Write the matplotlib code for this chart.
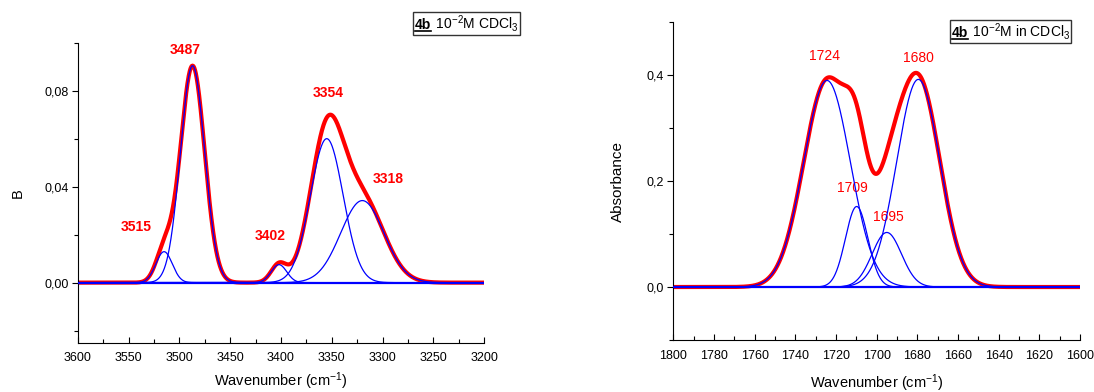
import matplotlib
matplotlib.use('Agg')
import matplotlib.pyplot as plt
import numpy as np
from matplotlib.lines import Line2D
from matplotlib.patches import Rectangle
from matplotlib.transforms import IdentityTransform

plt.rcParams['font.family'] = ['Liberation Sans', 'DejaVu Sans']
plt.rcParams['mathtext.fontset'] = 'custom'
plt.rcParams['mathtext.rm'] = 'Liberation Sans'
plt.rcParams['mathtext.it'] = 'Liberation Sans:italic'
plt.rcParams['mathtext.bf'] = 'Liberation Sans:bold'

# N-H region (left): fitted gaussian components
nh_centers = [3515, 3487, 3402, 3355, 3320]
nh_heights = [0.0129, 0.0904, 0.0075, 0.0600, 0.0342]
nh_fwhm = [19, 28, 18, 38, 50]
nh_labels = ['3515', '3487', '3402', '3354', '3318']
nh_label_x = [3542, 3494, 3411, 3354, 3295]
nh_label_y = [0.0231, 0.0971, 0.0195, 0.0790, 0.0433]

# C=O region (right): fitted gaussian components
co_centers = [1724.4, 1709.8, 1695.0, 1679.5]
co_heights = [0.390, 0.152, 0.103, 0.392]
co_fwhm = [27, 13, 17, 25]
co_labels = ['1724', '1709', '1695', '1680']
co_label_x = [1725.8, 1712.1, 1694.1, 1679.5]
co_label_y = [0.436, 0.187, 0.132, 0.433]

nh_yticks = [0.0, 0.04, 0.08]
nh_yticklabels = ['0,00', '0,04', '0,08']
co_yticks = [0.0, 0.2, 0.4]
co_yticklabels = ['0,0', '0,2', '0,4']


def gauss(x, c, h, w):
    s = w / (2 * np.sqrt(2 * np.log(2)))
    return h * np.exp(-0.5 * ((x - c) / s) ** 2)


def draw_panel(ax, x, centers, heights, fwhm):
    comps = [gauss(x, c, h, w) for c, h, w in zip(centers, heights, fwhm)]
    ax.plot(x, np.sum(comps, axis=0), color='#ff0000', lw=3, zorder=2)
    ax.axhline(0, color='#0000ff', lw=1.6, zorder=3)
    for y in comps:
        ax.plot(x, y, color='#0000ff', lw=0.9, zorder=4)
    ax.spines['top'].set_visible(False)
    ax.spines['right'].set_visible(False)
    ax.tick_params(axis='y', which='both', direction='out', labelsize=9, pad=2)
    ax.tick_params(axis='x', which='both', direction='in', labelsize=9, pad=7)
    ax.tick_params(which='major', length=4.5, width=0.8)
    ax.tick_params(which='minor', length=3, width=0.8)


fig = plt.figure(figsize=(10.94, 3.92), dpi=100)
ax1 = fig.add_axes([0.0710, 0.1260, 0.3717, 0.7651])
ax2 = fig.add_axes([0.6154, 0.1327, 0.3718, 0.8107])

x1 = np.linspace(3600, 3200, 1601)
draw_panel(ax1, x1, nh_centers, nh_heights, nh_fwhm)
ax1.set_xlim(3600, 3200)
ax1.set_ylim(-0.025, 0.1)
ax1.set_xticks(np.arange(3600, 3199, -50))
ax1.set_xticks(np.arange(3600, 3199, -25), minor=True)
ax1.set_yticks(nh_yticks, nh_yticklabels)
ax1.set_yticks([-0.02, 0.02, 0.06, 0.10], minor=True)
for t, lx, ly in zip(nh_labels, nh_label_x, nh_label_y):
    ax1.text(lx, ly, t, color='#ff0000', fontsize=10, fontweight='bold', ha='center', va='center')
ax1.set_ylabel('B', fontsize=10.5, va='center')
ax1.yaxis.set_label_coords(-0.148, 0.5)
ax1.set_xlabel('Wavenumber (cm$^{-1}$)', fontsize=10.5, va='center')
ax1.xaxis.set_label_coords(0.5, -0.13)

x2 = np.linspace(1800, 1600, 1601)
draw_panel(ax2, x2, co_centers, co_heights, co_fwhm)
ax2.set_xlim(1800, 1600)
ax2.set_ylim(-0.1, 0.5)
ax2.set_xticks(np.arange(1800, 1599, -20))
ax2.set_xticks(np.arange(1800, 1599, -10), minor=True)
ax2.set_yticks(co_yticks, co_yticklabels)
ax2.set_yticks([-0.1, 0.1, 0.3, 0.5], minor=True)
for t, lx, ly in zip(co_labels, co_label_x, co_label_y):
    ax2.text(lx, ly, t, color='#ff0000', fontsize=10, ha='center', va='center')
ax2.set_ylabel('Absorbance', fontsize=11, va='center')
ax2.yaxis.set_label_coords(-0.135, 0.5)
ax2.set_xlabel('Wavenumber (cm$^{-1}$)', fontsize=10.5, va='center')
ax2.xaxis.set_label_coords(0.5, -0.135)


# boxed sample labels with underlined bold "4b"
def sample_box(x0, ybase, rest):
    t1 = fig.text(x0 / 1094, 1 - ybase / 392, '4b', fontsize=10, fontweight='bold', va='baseline')
    fig.canvas.draw()
    r = fig.canvas.get_renderer()
    b1 = t1.get_window_extent(r)
    t2 = fig.text(0, 1 - ybase / 392, rest, fontsize=10, va='baseline')
    t2.set_x(b1.x1 / fig.bbox.width + 1 / 1094)
    fig.canvas.draw()
    b2 = t2.get_window_extent(r)
    yb = fig.bbox.height * (1 - ybase / 392)
    fig.add_artist(Line2D([b1.x0, b1.x1], [yb - 1.5, yb - 1.5], color='black', lw=1.2,
                          transform=IdentityTransform()))
    x_lo, x_hi = b1.x0 - 2, b2.x1 + 1
    y_lo, y_hi = min(b1.y0, b2.y0) - 1, max(b1.y1, b2.y1) + 1
    fig.add_artist(Rectangle((x_lo, y_lo), x_hi - x_lo, y_hi - y_lo, fill=False,
                             edgecolor='#333333', lw=1.0, transform=IdentityTransform()))


sample_box(415, 29, ' 10$^{-2}$M CDCl$_3$')
sample_box(952, 37, ' 10$^{-2}$M in CDCl$_3$')

fig.savefig('out.png', dpi=100)
